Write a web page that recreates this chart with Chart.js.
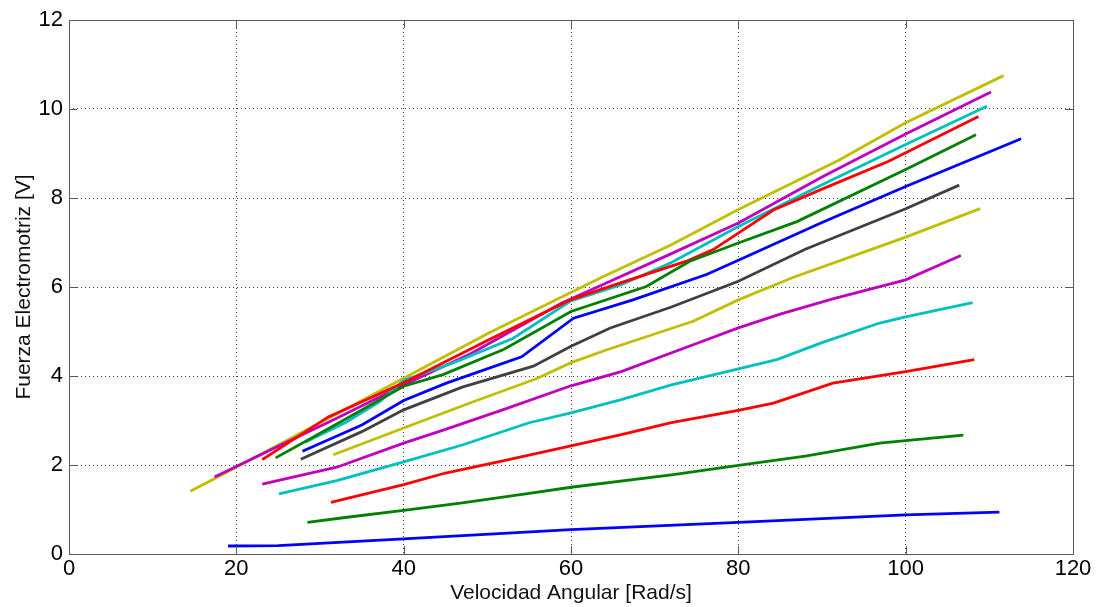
<!DOCTYPE html>
<html>
<head>
<meta charset="utf-8">
<script src="https://cdn.jsdelivr.net/npm/chart.js@4/dist/chart.umd.min.js"></script>
<style>
  html, body { margin: 0; padding: 0; background: #fff; }
  #wrap { width: 1098px; height: 607px; }
</style>
</head>
<body>
<div id="wrap"><canvas id="fem"></canvas></div>
<script>
// velocidad angular [rad/s] y fuerza electromotriz [V], una curva por ensayo
var vel1 = [19, 25, 40, 60, 80, 100, 111.2];
var fem1 = [0.18, 0.19, 0.34, 0.55, 0.71, 0.88, 0.94];
var vel2 = [28.5, 33, 40, 47, 55, 60, 72, 80, 88, 96.9, 100, 106.9];
var fem2 = [0.71, 0.82, 0.98, 1.15, 1.36, 1.50, 1.78, 1.99, 2.2, 2.49, 2.55, 2.67];
var vel3 = [31.3, 40, 45, 52, 60, 66, 72, 80, 84.2, 91.3, 100, 108.2];
var fem3 = [1.16, 1.56, 1.82, 2.1, 2.43, 2.68, 2.95, 3.23, 3.39, 3.84, 4.1, 4.37];
var vel4 = [25.1, 32, 40, 47, 55, 60, 66, 72, 80, 84.6, 90, 96.9, 100, 108];
var fem4 = [1.35, 1.65, 2.07, 2.45, 2.95, 3.17, 3.47, 3.8, 4.16, 4.37, 4.75, 5.19, 5.33, 5.65];
var vel5 = [23.1, 32, 40, 45, 52, 60, 66, 75, 80, 85, 91.4, 100, 106.6];
var fem5 = [1.57, 1.95, 2.49, 2.8, 3.25, 3.78, 4.1, 4.73, 5.08, 5.39, 5.74, 6.16, 6.71];
var vel6 = [31.6, 40, 48, 56, 60, 64.3, 74.6, 80, 86.6, 96, 100, 108.9];
var fem6 = [2.23, 2.83, 3.4, 3.95, 4.3, 4.59, 5.23, 5.71, 6.22, 6.85, 7.12, 7.76];
var vel7 = [27.7, 35, 40, 47, 55.5, 60, 64.7, 72, 80, 88, 100, 106.4];
var fem7 = [2.13, 2.75, 3.24, 3.75, 4.22, 4.67, 5.08, 5.55, 6.13, 6.85, 7.76, 8.29];
var vel8 = [27.9, 35, 40, 45.1, 54.1, 60.3, 67.4, 76.2, 80, 90, 100, 113.8];
var fem8 = [2.31, 2.9, 3.45, 3.84, 4.43, 5.3, 5.71, 6.28, 6.6, 7.45, 8.26, 9.33];
var vel9 = [24.7, 32, 40, 44.7, 52, 60, 69, 74.2, 80, 87, 100, 108.4];
var fem9 = [2.16, 2.92, 3.77, 4.03, 4.6, 5.45, 6.01, 6.58, 6.99, 7.47, 8.64, 9.42];
var vel10 = [23.1, 31, 40, 50, 59.9, 66, 73.8, 77, 84.2, 90, 97.9, 108.7];
var fem10 = [2.12, 3.08, 3.85, 4.8, 5.71, 6.1, 6.58, 6.84, 7.73, 8.2, 8.82, 9.83];
var vel11 = [28.2, 33, 37.2, 40, 46, 53.1, 59.9, 66, 72, 80, 90, 100, 109.7];
var fem11 = [2.51, 2.95, 3.43, 3.9, 4.3, 4.85, 5.68, 6.05, 6.55, 7.36, 8.3, 9.2, 10.06];
var vel12 = [17.4, 25, 32, 40, 48, 58.9, 63.5, 72, 80, 90, 100, 110.2];
var fem12 = [1.73, 2.42, 3.05, 3.8, 4.5, 5.64, 6.03, 6.75, 7.44, 8.47, 9.44, 10.38];
var vel13 = [14.5, 20, 30, 40, 50, 57, 63.5, 72, 80, 92, 100, 111.7];
var fem13 = [1.41, 1.95, 2.95, 3.95, 4.95, 5.6, 6.2, 6.95, 7.74, 8.85, 9.69, 10.75];

var xTicks = [0, 20, 40, 60, 80, 100, 120];
var yTicks = [0, 2, 4, 6, 8, 10, 12];

// orden de colores por defecto de MATLAB
var colores = ['#0000ff', '#008000', '#ff0000', '#00bfbf', '#bf00bf', '#bfbf00', '#404040'];

var series = [
  [vel1, fem1], [vel2, fem2], [vel3, fem3], [vel4, fem4], [vel5, fem5],
  [vel6, fem6], [vel7, fem7], [vel8, fem8], [vel9, fem9], [vel10, fem10],
  [vel11, fem11], [vel12, fem12], [vel13, fem13]
];

var datasets = series.map(function (s, i) {
  return {
    data: s[0].map(function (x, j) { return { x: x, y: s[1][j] }; }),
    borderColor: colores[i % colores.length],
    borderWidth: 2.8,
    showLine: true,
    pointRadius: 0,
    fill: false
  };
});

// caja del eje con marcas hacia dentro
var cajaEjes = {
  id: 'cajaEjes',
  afterDraw: function (chart) {
    var c = chart.ctx, a = chart.chartArea;
    var sx = chart.scales.x, sy = chart.scales.y;
    c.save();
    c.strokeStyle = '#5a5a5a';
    c.lineWidth = 1;
    c.strokeRect(a.left + 0.5, a.top + 0.5, a.right - a.left, a.bottom - a.top);
    var L = 8;
    c.beginPath();
    xTicks.forEach(function (v) {
      var px = Math.round(sx.getPixelForValue(v)) + 0.5;
      c.moveTo(px, a.bottom); c.lineTo(px, a.bottom - L);
      c.moveTo(px, a.top); c.lineTo(px, a.top + L);
    });
    yTicks.forEach(function (v) {
      var py = Math.round(sy.getPixelForValue(v)) + 0.5;
      c.moveTo(a.left, py); c.lineTo(a.left + L, py);
      c.moveTo(a.right, py); c.lineTo(a.right - L, py);
    });
    c.stroke();
    c.restore();
  }
};

var fuente = 'Liberation Sans, Arial, sans-serif';

new Chart(document.getElementById('fem'), {
  type: 'scatter',
  data: { datasets: datasets },
  options: {
    responsive: true,
    maintainAspectRatio: false,
    animation: false,
    layout: { padding: { top: 20, right: 25, left: 0, bottom: 0 } },
    plugins: { legend: { display: false }, tooltip: { enabled: false } },
    scales: {
      x: {
        type: 'linear', min: 0, max: 120,
        afterBuildTicks: function (s) { s.ticks = xTicks.map(function (v) { return { value: v }; }); },
        afterFit: function (s) { s.height = 53; },
        grid: { color: '#3c3c3c', lineWidth: 1, drawTicks: false },
        border: { display: false, dash: [1, 3] },
        ticks: { color: '#000', font: { family: fuente, size: 22 }, padding: 2, maxRotation: 0 },
        title: { display: true, text: 'Velocidad Angular [Rad/s]', color: '#111',
                 font: { family: fuente, size: 21 }, padding: { top: 0, bottom: 1 } }
      },
      y: {
        type: 'linear', min: 0, max: 12,
        afterBuildTicks: function (s) { s.ticks = yTicks.map(function (v) { return { value: v }; }); },
        afterFit: function (s) { s.width = 69; },
        grid: { color: '#3c3c3c', lineWidth: 1, drawTicks: false },
        border: { display: false, dash: [1, 3] },
        ticks: { color: '#000', font: { family: fuente, size: 22 }, padding: 6 },
        title: { display: true, text: 'Fuerza Electromotriz [V]', color: '#111',
                 font: { family: fuente, size: 21 }, padding: { top: 12, bottom: 0 } }
      }
    }
  },
  plugins: [cajaEjes]
});
</script>
</body>
</html>
